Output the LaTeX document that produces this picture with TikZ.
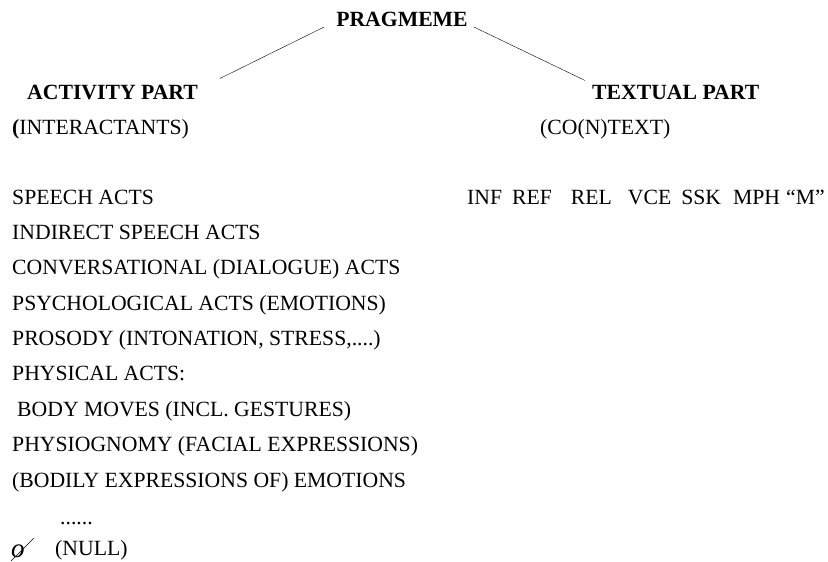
\documentclass[tikz,border=0pt]{standalone}
\usepackage{fontspec}
\setmainfont{Liberation Serif}

\begin{document}
\begin{tikzpicture}[x=1pt,y=-1pt,
    every node/.style={inner sep=0pt,font=\fontsize{21.7}{26}\selectfont},
    head/.style={anchor=base,font=\fontsize{21.7}{26}\selectfont\bfseries},
    item/.style={anchor=base west}
    ]
    \useasboundingbox (0,0) rectangle (828,562);

    \node[head] (prag) at (402,27) {PRAGMEME};
    \node[head,anchor=base west] (activity) at (27,99) {ACTIVITY PART};
    \node[head,anchor=base west] (textual) at (592,99) {TEXTUAL PART};

    \node[item] (inter) at (12,134) {\textbf{(}INTERACTANTS)};
    \node[item] (context) at (540,134) {(CO(N)TEXT)};
    \node[item] (codes) at (467,204) {INF\hspace{10pt}REF\hspace{19pt}REL\hspace{16pt}VCE\hspace{10pt}SSK\hspace{12pt}MPH\hspace{6pt}“M”};

    \node[item] (speech) at (12,204) {SPEECH ACTS};
    \node[item] (indirect) at (12,239.4) {INDIRECT SPEECH ACTS};
    \node[item] (conv) at (12,274.8) {CONVERSATIONAL (DIALOGUE) ACTS};
    \node[item] (psych) at (12,310.1) {PSYCHOLOGICAL ACTS (EMOTIONS)};
    \node[item] (prosody) at (12,345.5) {PROSODY (INTONATION, STRESS,....)};
    \node[item] (physical) at (12,380.9) {PHYSICAL ACTS:};
    \node[item] (body) at (17,416.3) {BODY MOVES (INCL. GESTURES)};
    \node[item] (physio) at (12,451.6) {PHYSIOGNOMY (FACIAL EXPRESSIONS)};
    \node[item] (emotions) at (12,487) {(BODILY EXPRESSIONS OF) EMOTIONS};
    \node[item] (dots) at (60,524) {......};
    \node[item,font=\fontsize{27}{30}\selectfont\itshape] (nullsym) at (11,557) {o};
    \node[item] (null) at (55,555) {(NULL)};

    % slash through the null sign
    \coordinate (slashlo) at (11,561);
    \coordinate (slashhi) at (34,538);
    \draw[semithick] (slashlo) to (slashhi);

    \draw[thin] ([xshift=-12pt]prag.base west) to ([xshift=22pt,yshift=6pt]activity.north east);
    \draw[thin] ([xshift=6pt]prag.base east) to ([xshift=-7pt,yshift=4pt]textual.north west);

\end{tikzpicture}
\end{document}
